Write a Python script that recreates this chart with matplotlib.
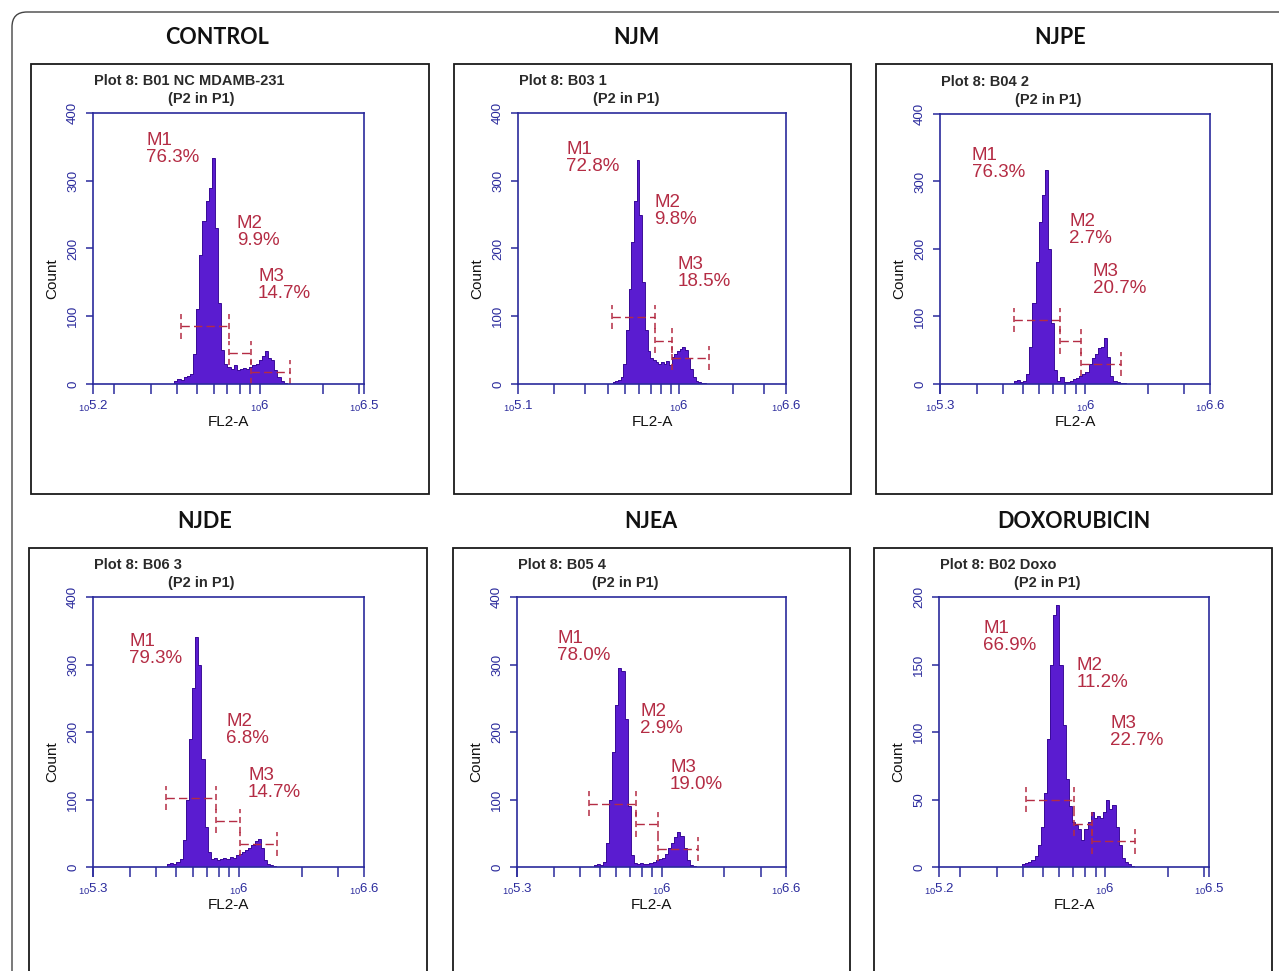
import numpy as np
import matplotlib.pyplot as plt
from matplotlib.patches import Rectangle, FancyBboxPatch
from matplotlib.ticker import LogLocator, NullFormatter

plt.rcParams['font.family'] = ['Liberation Sans', 'DejaVu Sans']

W, H = 1279, 971

# ---- data ----
titles = ["CONTROL", "NJM", "NJPE", "NJDE", "NJEA", "DOXORUBICIN"]
sample_names = ["Plot 8: B01 NC MDAMB-231", "Plot 8: B03 1", "Plot 8: B04 2",
                "Plot 8: B06 3", "Plot 8: B05 4", "Plot 8: B02 Doxo"]
x_ranges = [(5.2, 6.5), (5.1, 6.6), (5.3, 6.6), (5.3, 6.6), (5.3, 6.6), (5.2, 6.5)]
x_labels = [("5.2", "6", "6.5"), ("5.1", "6", "6.6"), ("5.3", "6", "6.6"),
            ("5.3", "6", "6.6"), ("5.3", "6", "6.6"), ("5.2", "6", "6.5")]
y_max = [400, 400, 400, 400, 400, 200]

# histogram bins: log10(FL2-A) start of first bin, constant bin width
bin_width = 0.015
hist_start = [5.59, 5.63, 5.655, 5.655, 5.67, 5.60]

control_counts = [4, 8, 6, 10, 12, 15, 45, 110, 190, 240, 270, 290, 333, 230, 120,
                  50, 30, 25, 22, 28, 20, 22, 24, 22, 25, 28, 30, 35, 42, 48, 38,
                  35, 20, 10, 5, 2]
njm_counts = [3, 5, 6, 10, 30, 80, 140, 210, 270, 330, 250, 150, 80, 48, 38, 35,
              32, 30, 33, 30, 34, 28, 40, 45, 48, 52, 55, 50, 38, 22, 10, 5, 3, 2, 1]
njpe_counts = [4, 6, 3, 5, 15, 55, 120, 180, 240, 280, 317, 200, 90, 20, 5, 11, 3,
               3, 5, 8, 9, 12, 15, 18, 30, 38, 45, 53, 55, 68, 40, 12, 4, 3, 2, 2]
njde_counts = [4, 6, 5, 7, 12, 40, 100, 190, 265, 341, 300, 160, 60, 22, 12, 13,
               11, 12, 13, 12, 15, 14, 18, 20, 22, 25, 28, 33, 38, 42, 28, 10, 4, 3, 2]
njea_counts = [3, 4, 3, 8, 35, 100, 170, 240, 295, 290, 220, 90, 18, 6, 5, 6, 4,
               5, 6, 8, 10, 12, 14, 20, 28, 36, 45, 52, 46, 28, 10, 3, 1]
doxo_counts = [2, 3, 4, 5, 8, 16, 30, 55, 95, 150, 187, 194, 150, 105, 65, 45, 33,
               31, 28, 20, 28, 33, 41, 36, 38, 36, 41, 50, 43, 46, 30, 16, 7, 4, 2, 1]
all_counts = [control_counts, njm_counts, njpe_counts, njde_counts, njea_counts, doxo_counts]

# marker regions M1, M2, M3: boundaries (log10) and drawn level (count)
gate_bounds = [(5.621, 5.854, 5.956, 6.143), (5.628, 5.864, 5.963, 6.168),
               (5.656, 5.878, 5.977, 6.170), (5.652, 5.888, 6.007, 6.183),
               (5.650, 5.876, 5.979, 6.177), (5.617, 5.849, 5.939, 6.143)]
gate_levels = [(85, 46, 18), (99, 64, 38), (95, 63, 30),
               (102, 68, 34), (94, 63, 27), (50, 32, 19)]
gate_pct = [("76.3%", "9.9%", "14.7%"), ("72.8%", "9.8%", "18.5%"),
            ("76.3%", "2.7%", "20.7%"), ("79.3%", "6.8%", "14.7%"),
            ("78.0%", "2.9%", "19.0%"), ("66.9%", "11.2%", "22.7%")]

# ---- layout (pixels) ----
axes_box = [(93, 113, 271, 271), (518, 113, 268, 271), (940, 114, 270, 270),
            (93, 597, 271, 270), (517, 597, 269, 270), (939, 597, 270, 270)]
panel_box = [(31, 64, 429, 494), (454, 64, 851, 494), (876, 64, 1272, 494),
             (29, 548, 427, 1000), (453, 548, 850, 1000), (874, 548, 1272, 1000)]
title_pos = [(217, 38), (636, 38), (1060, 38), (205, 521), (651, 521), (1074, 521)]
label_pos = [[(0.196, 0.900), (0.530, 0.594), (0.609, 0.395)],
             [(0.180, 0.864), (0.509, 0.668), (0.594, 0.440)],
             [(0.117, 0.848), (0.479, 0.601), (0.566, 0.416)],
             [(0.133, 0.835), (0.492, 0.538), (0.572, 0.340)],
             [(0.149, 0.848), (0.458, 0.575), (0.569, 0.367)],
             [(0.163, 0.885), (0.509, 0.745), (0.635, 0.532)]]

navy = '#2a2a9c'
fill_col = '#5a1cd0'
edge_col = '#3a0c98'
red = '#b42c44'


def fx(px):
    return px / W


def fy(py):
    return 1 - py / H


fig = plt.figure(figsize=(W / 100, H / 100), dpi=100)

# outer rounded frame
fig.add_artist(FancyBboxPatch((0.12, -0.5), 14.0, 9.71 - 0.12 + 0.5,
                              boxstyle='round,pad=0,rounding_size=0.15',
                              transform=fig.dpi_scale_trans, fill=False,
                              ec='#444444', lw=1.0))

for i in range(6):
    l, t, r, b = panel_box[i]
    fig.add_artist(Rectangle((fx(l), fy(b)), (r - l) / W, (b - t) / H,
                             transform=fig.transFigure, fill=False,
                             ec='#1a1a1a', lw=1.3))
    fig.text(fx(title_pos[i][0]), fy(title_pos[i][1]), titles[i],
             family='Lato', weight='bold', fontsize=15.5,
             ha='center', va='center', color='#111111')

    al, at, aw, ah = axes_box[i]
    ax = fig.add_axes([fx(al), fy(at + ah), aw / W, ah / H])

    fig.text(fx(al + 1), fy(at - 32), sample_names[i], fontsize=10.5,
             weight='bold', ha='left', va='center', color='#2a2a2a')
    fig.text(fx(al + 108), fy(at - 14), "(P2 in P1)", fontsize=10.5,
             weight='bold', ha='center', va='center', color='#2a2a2a')

    counts = np.array(all_counts[i])
    edges = 10 ** (hist_start[i] + bin_width * np.arange(len(counts) + 1))
    ax.stairs(counts, edges, fill=True, color=fill_col)
    ax.stairs(counts, edges, color=edge_col, lw=0.7)

    ym = y_max[i]
    half = 0.045 * ym
    gb = gate_bounds[i]
    for k in range(3):
        x0, x1 = 10 ** gb[k], 10 ** gb[k + 1]
        lv = gate_levels[i][k]
        ax.plot([x0, x1], [lv, lv], color=red, lw=1.0, ls=(0, (6, 3)))
        for xv in (x0, x1):
            ax.plot([xv, xv], [lv - half, lv + half], color=red, lw=1.1,
                    ls=(0, (4, 2.5)))
        lx, ly = label_pos[i][k]
        ax.text(lx, ly, "M%d" % (k + 1), transform=ax.transAxes, color=red,
                fontsize=13.5, ha='left', va='center')
        ax.text(lx, ly - 17 / ah, gate_pct[i][k], transform=ax.transAxes,
                color=red, fontsize=13.5, ha='left', va='center')

    xmin, xmax = x_ranges[i]
    ax.set_xscale('log')
    ax.set_xlim(10 ** xmin, 10 ** xmax)
    ax.set_ylim(0, ym)
    ax.set_xticks([10 ** xmin, 1e6, 10 ** xmax])
    ax.set_xticklabels([r'$\mathregular{_{10}%s}$' % s for s in x_labels[i]])
    ax.xaxis.set_minor_locator(LogLocator(base=10, subs=np.arange(2, 10), numticks=20))
    ax.xaxis.set_minor_formatter(NullFormatter())
    yt = np.arange(0, ym + 1, ym // 4)
    ax.set_yticks(yt)
    ax.set_yticklabels([str(v) for v in yt], rotation=90, va='center')

    ax.tick_params(axis='x', which='both', direction='out', length=7, width=1.1,
                   color=navy, labelcolor=navy, labelsize=9.5, pad=4)
    ax.tick_params(axis='y', direction='out', length=5, width=1.1,
                   color=navy, labelcolor=navy, labelsize=9.5, pad=5)
    for sp in ax.spines.values():
        sp.set_color(navy)
        sp.set_linewidth(1.2)
    ax.set_facecolor('white')

    ax.text(0.5, -38 / ah, "FL2-A", transform=ax.transAxes, ha='center',
            va='center', fontsize=11, color='#111111')
    ax.text(-41 / aw, 0.39, "Count", transform=ax.transAxes, ha='center',
            va='center', rotation=90, fontsize=11, color='#111111')

fig.savefig("out.png", dpi=100)
